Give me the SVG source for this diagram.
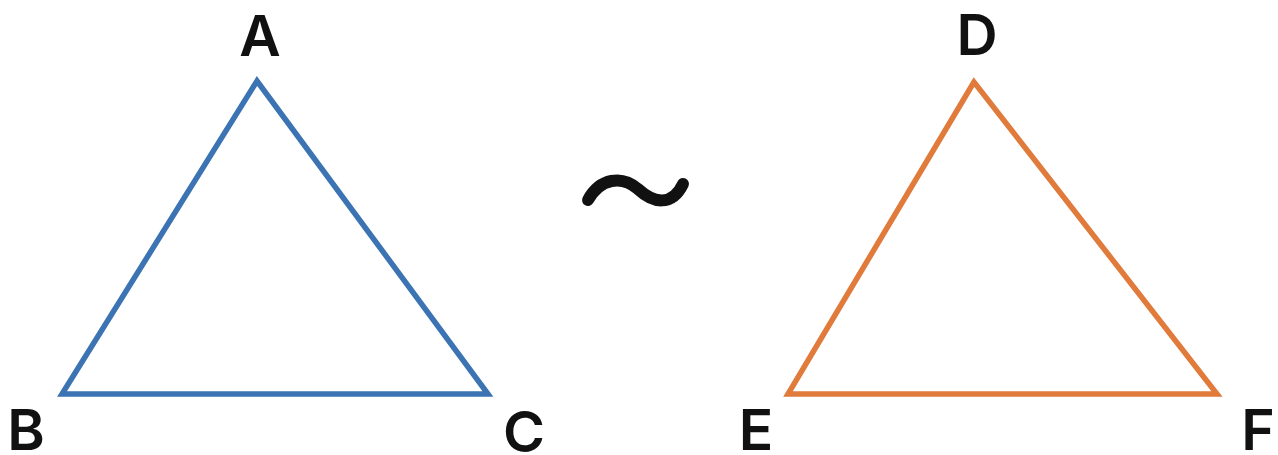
<svg xmlns="http://www.w3.org/2000/svg" width="1278" height="455" viewBox="0 0 1278 455">
<style>
.lbl{font-family:Inter,"Liberation Sans",Arial,sans-serif;font-weight:600;font-size:57px;fill:#111;text-anchor:middle}
.tri{fill:none;stroke-width:5.5;stroke-linejoin:miter}
</style>
<rect width="1278" height="455" fill="#fff"/>
<g id="triangle-abc">
<polygon class="tri" points="257,81 62,394 488,394" stroke="#3b73b3"/>
<text class="lbl" x="260" y="56">A</text>
<text class="lbl" x="26" y="450">B</text>
<text class="lbl" x="524" y="452">C</text>
</g>
<g id="similar">
<path d="M588 200 C600 178,622 175,638 189 C653 203,672 207,683 184" fill="none" stroke="#111" stroke-width="12" stroke-linecap="round"/>
</g>
<g id="triangle-def">
<polygon class="tri" points="974,82 788,394 1217,394" stroke="#e07b3c"/>
<text class="lbl" x="977" y="55">D</text>
<text class="lbl" x="756" y="450">E</text>
<text class="lbl" x="1258" y="450">F</text>
</g>
<g id="connectors"></g>
</svg>
